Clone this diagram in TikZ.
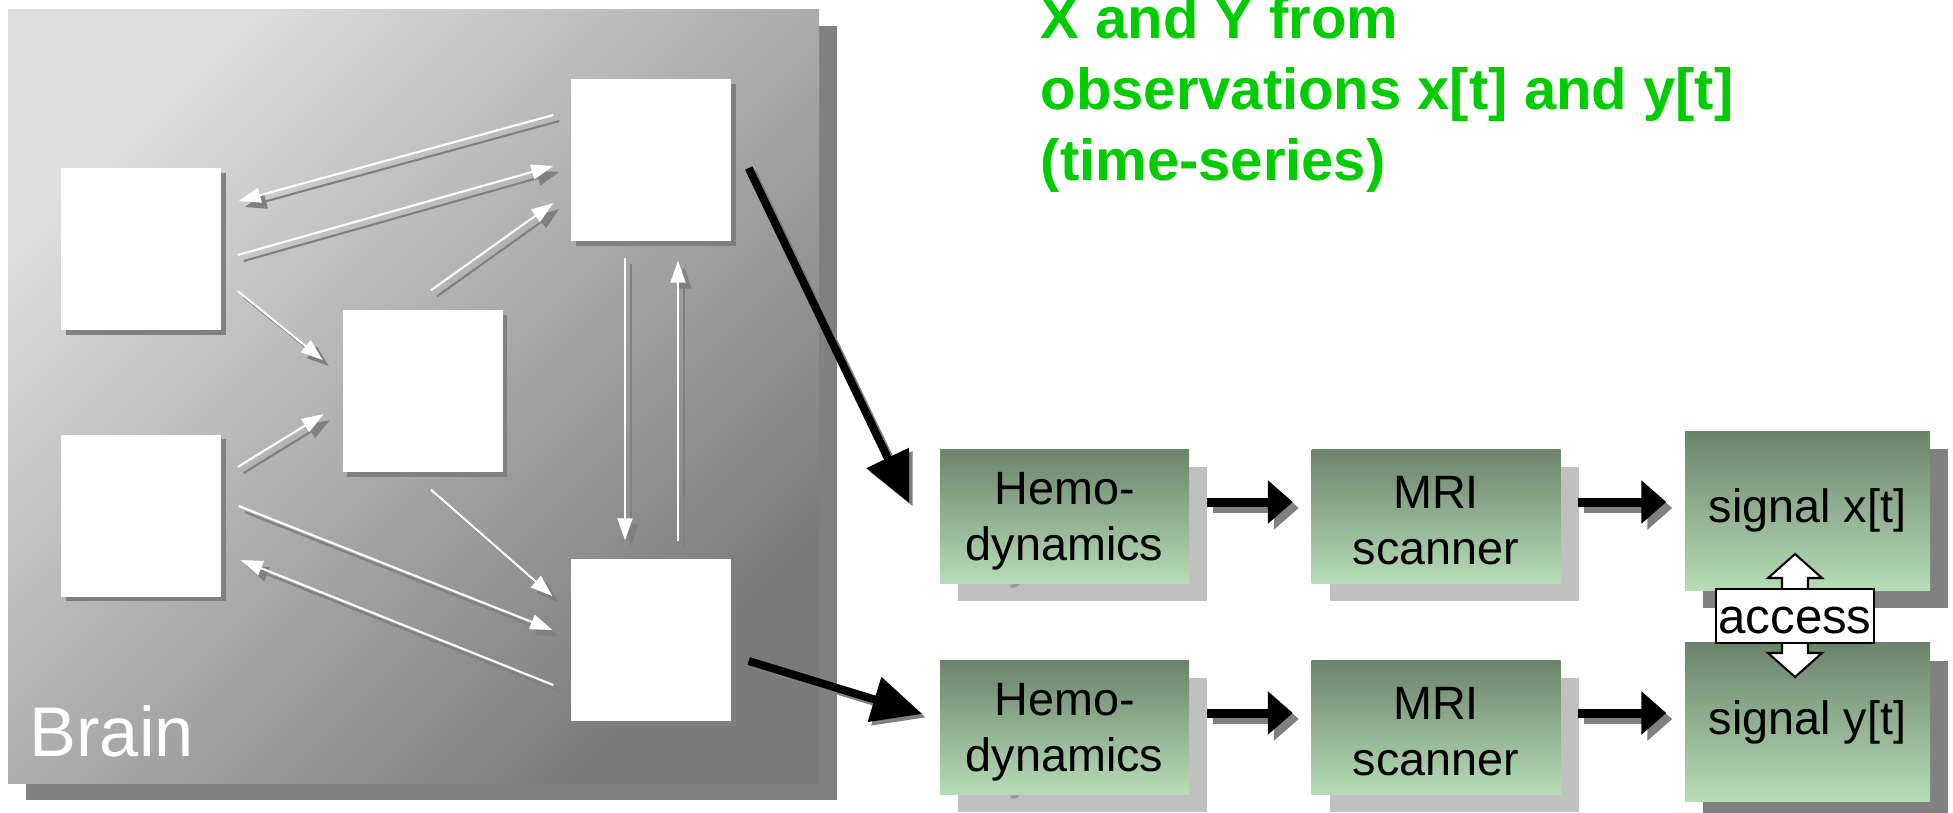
\documentclass[tikz,border=0pt]{standalone}
\usepackage{fontspec}
\setmainfont{Liberation Sans}
\usetikzlibrary{arrows.meta,shadows}

\definecolor{panellight}{RGB}{222,222,222}
\definecolor{paneldark}{RGB}{122,122,122}
\definecolor{shadedark}{RGB}{128,128,128}
\definecolor{shadelight}{RGB}{192,192,192}
\definecolor{ghostgray}{RGB}{150,150,150}
\definecolor{stagetop}{RGB}{107,131,107}
\definecolor{stagebottom}{RGB}{182,220,182}
\definecolor{titlegreen}{RGB}{0,204,0}

\newcommand{\firstline}{\rule{0pt}{4.2mm}}

\tikzset{px/.style={x=0.1mm,y=-0.1mm}}
\tikzset{region/.style={fill=white,inner sep=0pt,minimum width=16mm,minimum height=16.2mm,
           drop shadow={shadow xshift=0.45mm,shadow yshift=-0.45mm,fill=shadedark,opacity=1}},
         wire/.style={white,line width=0.6pt,-{Triangle[length=2.2mm,width=1.5mm]}},
         wireshade/.style={wire,shadedark,transform canvas={xshift=0.6mm,yshift=-0.6mm}}}
\tikzset{stagebase/.style={inner sep=0pt,minimum width=24.9mm,minimum height=13.4mm,
           align=center,font=\fontsize{13.3}{15.9}\selectfont},
         stage/.style={stagebase,top color=stagetop,bottom color=stagebottom},
         sigbox/.style={minimum width=24.5mm,minimum height=15.9mm},
         feed/.style={line width=0.9mm,shorten <=1.7mm,shorten >=1.8mm,
           -{Triangle[length=2.5mm,width=4.2mm]}},
         feedshade/.style={feed,shadedark,transform canvas={xshift=0.6mm,yshift=-0.6mm}},
         tap/.style={line width=0.8mm,-{Triangle[length=5mm,width=4.5mm]}},
         tapshade/.style={tap,shadedark,transform canvas={xshift=0.35mm,yshift=-0.35mm}}}

\begin{document}
\begin{tikzpicture}[px]
    \useasboundingbox (0,0) rectangle (1953,812);
    % brain panel
    \fill[shadedark] (26,26) rectangle (837,800);
    \shade[top color=panellight,bottom color=paneldark,shading angle=45] (8,9) rectangle (819,783);
    \node[anchor=base west,inner sep=0pt,white,font=\fontsize{20}{24}\selectfont] (brainlabel) at (29,756) {Brain};
    \node[region] (rA) at (141,249) {};
    \node[region] (rB) at (141,515.5) {};
    \node[region] (rC) at (422.5,391) {};
    \node[region] (rD) at (651,160) {};
    \node[region] (rE) at (651,640) {};
    \foreach \from/\fx/\fy/\to/\tx/\ty in {rD.west/-17/-45/rA.east/17/-48, rA.east/16/6/rD.west/-17/6,
        rC.north/8.5/-19/rD.west/-17/43, rA.east/16/42/rC.west/-19/-31, rB.east/16/-48.5/rC.west/-18/23,
        rC.south/8.5/17/rE.west/-18/-44, rB.east/17/-9.5/rE.west/-18/-10, rE.west/-17/45/rB.east/19/44.5,
        rD.south/-26/16/rE.north/-26/-18, rE.north/27/-17/rD.south/27/19}{
      \draw[wireshade] ([shift={(\fx,\fy)}]\from) -- ([shift={(\tx,\ty)}]\to);
      \draw[wire] ([shift={(\fx,\fy)}]\from) -- ([shift={(\tx,\ty)}]\to);
    }

    % measurement chain, one row per signal
    \foreach \nm/\x/\y/\txt in {hemoX/1064.5/516/{\firstline Hemo-\\dynamics}, mriX/1436/516/{\firstline MRI\\scanner},
                                hemoY/1064.5/727/{\firstline Hemo-\\dynamics}, mriY/1436/727/{\firstline MRI\\scanner}}{
      \node[stagebase,fill=shadelight,text=ghostgray] (\nm-shade) at (\x+18,\y+18) {\txt};
      \node[stage] (\nm) at (\x,\y) {\txt};
    }
    \foreach \nm/\y/\txt in {sigX/510.5/{signal x[t]}, sigY/722/{signal y[t]}}{
      \node[stagebase,sigbox,fill=shadedark,text=ghostgray] (\nm-shade) at (1825.5,\y+18) {\txt};
      \node[stage,sigbox] (\nm) at (1807.5,\y) {\txt};
    }
    \foreach \a/\b in {hemoX/mriX, mriX/sigX, hemoY/mriY, mriY/sigY}{
      \coordinate (s) at ([yshift=1.4mm]\a.east);
      \draw[feedshade] (s) -- (\b.west |- s);
      \draw[feed] (s) -- (\b.west |- s);
    }
    \draw[tapshade] ([shift={(17,8)}]rD.east) -- ([shift={(-30,-13)}]hemoX.west);
    \draw[tap] ([shift={(17,8)}]rD.east) -- ([shift={(-30,-13)}]hemoX.west);
    \draw[tapshade] ([shift={(17,21)}]rE.east) -- ([shift={(-17,-13)}]hemoY.west);
    \draw[tap] ([shift={(17,21)}]rE.east) -- ([shift={(-17,-13)}]hemoY.west);

    % access between the two signals
    \coordinate (accessmid) at (1795,616);
    \draw[fill=white,line width=0.6pt] (accessmid) ++(0,-62) -- ++(27,24) -- ++(-14,0) -- ++(0,75)
        -- ++(14,0) -- ++(-27,24) -- ++(-27,-24) -- ++(14,0) -- ++(0,-75) -- ++(-14,0) -- cycle;
    \node[draw,fill=white,line width=0.6pt,inner sep=0pt,minimum width=15.8mm,minimum height=5.4mm,
          text height=3.5mm,text depth=0pt,font=\fontsize{14}{16}\selectfont] (access) at (accessmid) {access};

    \node[anchor=north west,inner sep=0pt,align=left,text=titlegreen,
          font=\fontsize{16.5}{20.2}\selectfont\bfseries] (question) at (1040,-4)
          {X and Y from\\observations x[t] and y[t]\\(time-series)};
\end{tikzpicture}
\end{document}
